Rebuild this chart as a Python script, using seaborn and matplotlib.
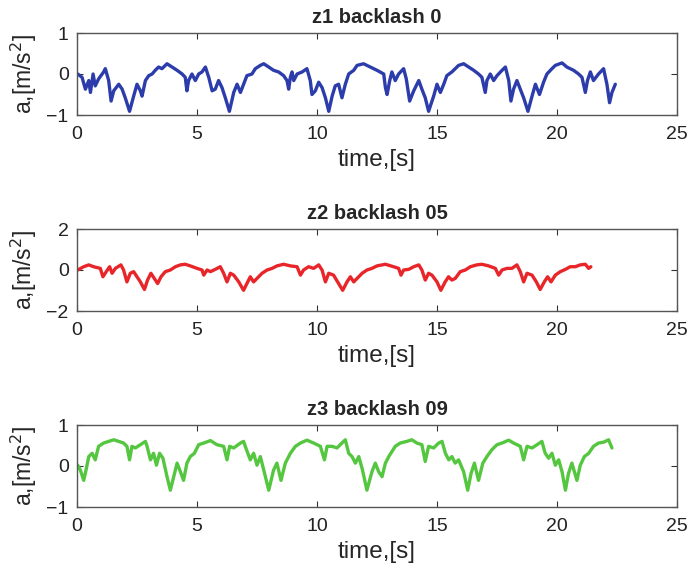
import numpy as np
import pandas as pd
import matplotlib
matplotlib.use("Agg")
import matplotlib.pyplot as plt
import seaborn as sns

# z1 backlash 0 : acceleration samples
t_z1 = [0.03, 0.21, 0.35, 0.49, 0.56, 0.67, 0.76, 0.90, 1.11, 1.18, 1.32, 1.42, 1.53, 1.74, 1.88,
        2.01, 2.19, 2.36, 2.50, 2.64, 2.71, 2.85, 2.99, 3.13, 3.26, 3.40, 3.54, 3.75, 3.96, 4.17,
        4.38, 4.51, 4.58, 4.65, 4.79, 4.93, 5.07, 5.21, 5.35, 5.49, 5.63, 5.76, 5.90, 6.04, 6.18,
        6.35, 6.53, 6.67, 6.81, 6.94, 7.08, 7.29, 7.43, 7.64, 7.78, 7.99, 8.19, 8.40, 8.61, 8.75,
        8.82, 8.89, 8.96, 9.03, 9.17, 9.38, 9.58, 9.72, 9.79, 9.93, 10.07, 10.21, 10.35, 10.49,
        10.63, 10.76, 10.90, 11.04, 11.18, 11.32, 11.53, 11.67, 11.94, 12.22, 12.50, 12.78,
        12.85, 12.92, 13.03, 13.12, 13.26, 13.40, 13.61, 13.72, 13.86, 14.03, 14.24, 14.37,
        14.51, 14.65, 14.86, 15.00, 15.14, 15.28, 15.41, 15.62, 15.76, 15.90, 16.11, 16.32,
        16.53, 16.73, 16.87, 17.01, 17.08, 17.22, 17.36, 17.50, 17.71, 17.85, 17.99, 18.08,
        18.19, 18.33, 18.47, 18.61, 18.79, 18.96, 19.10, 19.27, 19.44, 19.58, 19.79, 19.93,
        20.21, 20.41, 20.69, 20.90, 21.04, 21.18, 21.27, 21.39, 21.52, 21.73, 21.94, 22.08,
        22.19, 22.29, 22.43]
a_z1 = [0.00, -0.08, -0.37, -0.16, -0.45, 0.00, -0.29, -0.12, 0.05, 0.13, -0.16, -0.66, -0.41, -0.25, -0.37,
        -0.58, -0.91, -0.54, -0.25, -0.41, -0.54, -0.16, -0.04, 0.00, 0.09, 0.17, 0.13, 0.25, 0.17, 0.09,
        0.00, -0.08, -0.41, -0.16, 0.00, -0.16, 0.00, 0.05, 0.17, -0.08, -0.41, -0.37, -0.16, -0.33, -0.58,
        -0.91, -0.45, -0.25, -0.45, -0.25, -0.04, 0.00, 0.13, 0.21, 0.25, 0.17, 0.09, 0.05, -0.04, -0.16,
        -0.37, -0.08, 0.05, -0.16, 0.00, 0.05, 0.13, -0.16, -0.50, -0.41, -0.20, -0.33, -0.58, -0.91,
        -0.54, -0.29, -0.25, -0.58, -0.25, 0.00, 0.09, 0.21, 0.25, 0.17, 0.09, 0.00,
        -0.33, -0.50, -0.16, 0.05, -0.16, 0.00, 0.13, -0.12, -0.66, -0.41, -0.16, -0.37,
        -0.58, -0.91, -0.54, -0.25, -0.45, -0.25, -0.04, 0.05, 0.13, 0.21, 0.25, 0.17,
        0.09, 0.00, -0.08, -0.45, -0.16, 0.00, -0.16, -0.04, 0.09, 0.17, -0.16, -0.66,
        -0.37, -0.16, -0.37, -0.58, -0.91, -0.54, -0.25, -0.50, -0.20, 0.00, 0.13, 0.21,
        0.27, 0.17, 0.09, 0.00, -0.08, -0.45, -0.16, 0.05, -0.16, 0.00, 0.13, -0.25,
        -0.70, -0.45, -0.25]

# z2 backlash 05 : acceleration samples
t_z2 = [0.03, 0.28, 0.49, 0.69, 0.97, 1.08, 1.22, 1.36, 1.46, 1.60, 1.83, 1.94, 2.08, 2.22, 2.36,
        2.50, 2.64, 2.81, 2.94, 3.08, 3.22, 3.36, 3.50, 3.68, 3.89, 4.10, 4.31, 4.51, 4.72, 5.00,
        5.21, 5.28, 5.42, 5.56, 5.76, 5.97, 6.11, 6.25, 6.39, 6.53, 6.74, 6.94, 7.08, 7.22, 7.36,
        7.50, 7.71, 7.92, 8.13, 8.33, 8.61, 8.89, 9.17, 9.31, 9.44, 9.65, 9.86, 10.07, 10.21,
        10.35, 10.49, 10.69, 10.90, 11.07, 11.25, 11.39, 11.53, 11.67, 11.88, 12.08, 12.29,
        12.50, 12.85, 13.19, 13.40, 13.50, 13.61, 13.82, 14.03, 14.24, 14.37, 14.51, 14.65,
        14.79, 15.00, 15.16, 15.34, 15.48, 15.62, 15.76, 15.97, 16.18, 16.39, 16.66, 16.87,
        17.15, 17.43, 17.57, 17.71, 17.92, 18.12, 18.33, 18.47, 18.61, 18.75, 18.96, 19.14,
        19.30, 19.47, 19.61, 19.75, 19.93, 20.14, 20.35, 20.55, 20.76, 20.97, 21.18, 21.32,
        21.41]
a_z2 = [0.00, 0.16, 0.25, 0.16, 0.08, -0.33, -0.08, 0.16, -0.16, 0.08, 0.25, 0.00, -0.58, -0.16, -0.08,
        -0.33, -0.58, -0.95, -0.49, -0.16, -0.41, -0.66, -0.33, -0.08, 0.00, 0.16, 0.25, 0.28, 0.20, 0.08,
        0.00, -0.25, 0.00, -0.08, 0.03, 0.16, -0.16, -0.58, -0.16, -0.25, -0.58, -0.99, -0.66, -0.33, -0.58,
        -0.41, -0.16, 0.00, 0.08, 0.20, 0.28, 0.20, 0.16, -0.25, 0.00, 0.16, 0.08, 0.25, 0.00,
        -0.58, -0.16, -0.25, -0.66, -0.99, -0.58, -0.33, -0.58, -0.41, -0.16, 0.00, 0.08,
        0.20, 0.28, 0.16, 0.08, -0.25, 0.00, 0.03, 0.16, 0.25, 0.00, -0.49, -0.16,
        -0.25, -0.58, -0.99, -0.58, -0.33, -0.49, -0.41, -0.08, 0.00, 0.16, 0.25, 0.28,
        0.20, 0.08, -0.25, 0.00, 0.08, 0.08, 0.25, -0.08, -0.58, -0.16, -0.25, -0.58,
        -0.95, -0.58, -0.33, -0.58, -0.25, -0.08, 0.03, 0.16, 0.16, 0.25, 0.28, 0.08,
        0.16]

# z3 backlash 09 : acceleration samples
t_z3 = [0.03, 0.14, 0.28, 0.39, 0.49, 0.63, 0.76, 0.90, 1.11, 1.32, 1.53, 1.74, 1.94, 2.08, 2.19,
        2.29, 2.43, 2.64, 2.85, 2.92, 3.06, 3.19, 3.31, 3.44, 3.58, 3.75, 3.89, 4.03, 4.17, 4.31,
        4.44, 4.58, 4.72, 4.89, 5.07, 5.28, 5.56, 5.83, 6.11, 6.25, 6.36, 6.53, 6.81, 6.94, 7.06,
        7.22, 7.36, 7.50, 7.64, 7.78, 7.99, 8.19, 8.33, 8.50, 8.68, 8.89, 9.10, 9.31, 9.58, 9.86,
        10.14, 10.31, 10.42, 10.63, 10.83, 11.04, 11.18, 11.32, 11.46, 11.60, 11.74, 11.88,
        12.08, 12.29, 12.43, 12.57, 12.71, 12.85, 12.99, 13.12, 13.26, 13.47, 13.74, 13.95,
        14.16, 14.37, 14.51, 14.65, 14.86, 15.07, 15.21, 15.35, 15.49, 15.62, 15.76, 15.90,
        16.11, 16.28, 16.42, 16.56, 16.73, 16.91, 17.08, 17.29, 17.50, 17.71, 17.99, 18.19,
        18.47, 18.61, 18.75, 18.96, 19.17, 19.37, 19.51, 19.65, 19.79, 19.93, 20.07, 20.21,
        20.35, 20.48, 20.62, 20.83, 20.97, 21.14, 21.32, 21.52, 21.73, 21.94, 22.15, 22.29]
a_z3 = [0.02, -0.10, -0.35, -0.06, 0.23, 0.31, 0.15, 0.48, 0.56, 0.60, 0.64, 0.60, 0.56, 0.48, 0.15,
        0.48, 0.44, 0.52, 0.60, 0.48, 0.15, 0.31, 0.02, 0.31, 0.19, -0.26, -0.59, -0.26, 0.07, -0.14,
        -0.35, 0.07, 0.23, 0.31, 0.52, 0.56, 0.62, 0.52, 0.48, 0.15, 0.48, 0.44, 0.56, 0.60, 0.40,
        0.15, 0.31, 0.02, 0.23, -0.10, -0.59, -0.10, 0.07, -0.35, 0.07, 0.31, 0.48, 0.56, 0.63, 0.56,
        0.48, 0.15, 0.48, 0.48, 0.44, 0.56, 0.64, 0.31, 0.23, 0.07, 0.23, -0.06,
        -0.59, -0.14, 0.07, -0.14, -0.26, 0.07, 0.23, 0.35, 0.48, 0.56, 0.60, 0.64,
        0.56, 0.52, 0.11, 0.48, 0.44, 0.56, 0.60, 0.31, 0.15, 0.23, 0.07, 0.15,
        -0.14, -0.59, -0.18, 0.07, -0.35, 0.07, 0.23, 0.40, 0.52, 0.56, 0.63, 0.56,
        0.48, 0.15, 0.48, 0.44, 0.52, 0.60, 0.31, 0.19, 0.31, 0.02, 0.15, -0.14,
        -0.59, -0.18, 0.07, -0.35, 0.02, 0.23, 0.31, 0.48, 0.56, 0.58, 0.64, 0.44]

titles = ["z1 backlash 0", "z2 backlash 05", "z3 backlash 09"]
colors = ["#2c3dab", "#e8262a", "#55c63f"]
ylims = [(-1, 1), (-2, 2), (-1, 1)]
yticks = [[-1, 0, 1], [-2, 0, 2], [-1, 0, 1]]
xticks = [0, 5, 10, 15, 20, 25]
series = [(t_z1, a_z1), (t_z2, a_z2), (t_z3, a_z3)]

sns.set_theme(style="white")
plt.rcParams["font.family"] = ["Liberation Sans", "DejaVu Sans"]

W, H = 688, 572
fig = plt.figure(figsize=(W / 100, H / 100), dpi=100)
# panel boxes in pixels: (left, top, right, bottom)
boxes = [(77, 33, 677, 115), (77, 229, 677, 311), (77, 425, 677, 507)]

for i, (t, a) in enumerate(series):
    l, tp, r, b = boxes[i]
    ax = fig.add_axes([l / W, 1 - b / H, (r - l) / W, (b - tp) / H])
    df = pd.DataFrame({"time": t, "a": a})
    sns.lineplot(data=df, x="time", y="a", ax=ax, color=colors[i],
                 linewidth=2.4, sort=False, estimator=None)
    ax.set_xlim(0, 25)
    ax.set_ylim(*ylims[i])
    ax.set_xticks(xticks)
    ax.set_yticks(yticks[i])
    ax.tick_params(direction="in", length=4, width=0.8, color="#333333",
                   top=True, right=True, bottom=True, left=True,
                   labelsize=14, labelcolor="#222222")
    ax.tick_params(axis="x", pad=8)
    ax.tick_params(axis="y", pad=6)
    for s in ax.spines.values():
        s.set_color("#555555")
        s.set_linewidth(1.0)
    ax.set_title(titles[i], fontsize=14.5, fontweight="bold", pad=7)
    ax.set_xlabel("time,[s]", fontsize=17.5, labelpad=4)
    ax.set_ylabel("a,[m/s$^2$]", fontsize=16.5, labelpad=5)

fig.savefig("out.png", dpi=100)
